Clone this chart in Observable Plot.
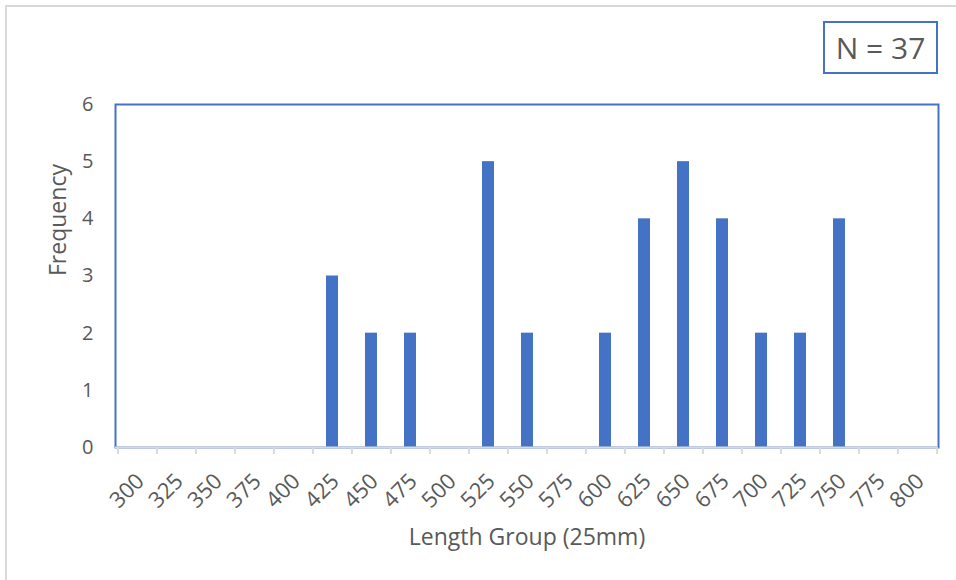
<!DOCTYPE html>
<html>
<head>
<meta charset="utf-8">
<script src="https://cdn.jsdelivr.net/npm/d3@7"></script>
<script src="https://cdn.jsdelivr.net/npm/@observablehq/plot@0.6"></script>
<style>
  html, body { margin: 0; padding: 0; background: #fff; }
  #wrap { position: relative; width: 956px; height: 580px; overflow: hidden; font-family: "Open Sans", Lato, sans-serif; }
  #outer { position: absolute; left: 5px; top: 5px; width: 1200px; height: 1200px; border-left: 2px solid #d9d9d9; border-top: 2px solid #d9d9d9; }
  #nbox { position: absolute; left: 823px; top: 21px; width: 111px; height: 49px; border: 2px solid #4472C4; color: #595959; font-size: 30px; line-height: 49px; text-align: center; background: #fff; }
  #chart { position: absolute; left: 0; top: 0; }
</style>
</head>
<body>
<div id="wrap">
  <div id="outer"></div>
  <div id="chart"></div>
  <div id="nbox">N = 37</div>
</div>
<script>
const lengthGroups = ["300","325","350","375","400","425","450","475","500","525","550","575","600","625","650","675","700","725","750","775","800"];
const frequency   = [0, 0, 0, 0, 0, 3, 2, 2, 0, 5, 2, 0, 2, 4, 5, 4, 2, 2, 4, 0, 0];
const yTicks = [0, 1, 2, 3, 4, 5, 6];
const xTitle = "Length Group (25mm)";
const yTitle = "Frequency";

const data = lengthGroups.map((g, i) => ({group: g, freq: frequency[i]}));
const W = 956, H = 580;
const mL = 115, mR = 18, mT = 104, mB = 133;
const step = (W - mL - mR) / lengthGroups.length;
const textColor = "#595959";

const chart = Plot.plot({
  width: W, height: H,
  marginLeft: mL, marginRight: mR, marginTop: mT, marginBottom: mB,
  style: {fontFamily: "'Open Sans', Lato, sans-serif", fontSize: "20px", color: textColor, background: "transparent"},
  x: {type: "band", domain: lengthGroups, paddingInner: 0.7, paddingOuter: 0.35, align: 0.5},
  y: {domain: [0, 6]},
  marks: [
    Plot.frame({stroke: "#4472C4", strokeWidth: 2}),
    Plot.barY(data, {x: "group", y: "freq", fill: "#4472C4"}),
    Plot.ruleY([0], {stroke: "#d9d9d9", strokeWidth: 2}),
    Plot.ruleX(lengthGroups, {x: d => d, y1: 0, y2: 0, insetBottom: -7, dx: -step / 2, stroke: "#d9d9d9", strokeWidth: 2}),
    Plot.ruleX([lengthGroups[lengthGroups.length - 1]], {x: d => d, y1: 0, y2: 0, insetBottom: -7, dx: step / 2, stroke: "#d9d9d9", strokeWidth: 2}),
    Plot.axisY({ticks: yTicks, tickSize: 0, tickPadding: 22, tickFormat: d => String(d), label: null, fill: textColor, fontSize: 20}),
    Plot.axisX({tickSize: 0, tickRotate: -45, tickPadding: 30, dx: 3, label: null, fill: textColor, fontSize: 22}),
    Plot.text([yTitle], {frameAnchor: "left", dx: -57, rotate: -90, fill: textColor, fontSize: 23, lineAnchor: "middle"}),
    Plot.text([xTitle], {frameAnchor: "bottom", dy: 90, fill: textColor, fontSize: 23, lineAnchor: "middle"})
  ]
});
document.getElementById("chart").appendChild(chart);
</script>
</body>
</html>
